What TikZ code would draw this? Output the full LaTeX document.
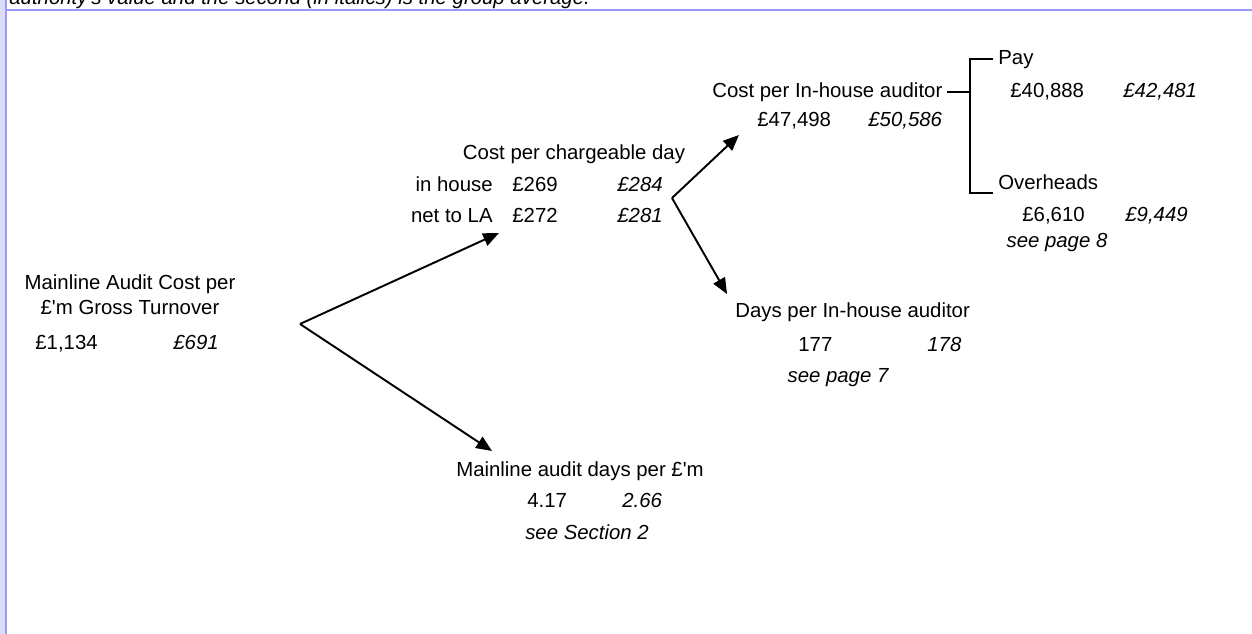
\documentclass[tikz,border=0pt]{standalone}
\usepackage{fontspec}
\setmainfont{Liberation Sans}
\usetikzlibrary{arrows.meta}
\definecolor{rulebl}{RGB}{153,153,255}
\definecolor{stripbl}{RGB}{220,220,248}

\begin{document}
\begin{tikzpicture}[x=0.02cm, y=-0.02cm,
  txt/.style={inner sep=0pt, font=\fontsize{11.6}{14}\selectfont, anchor=base west},
  ctxt/.style={txt, anchor=base},
  rtxt/.style={txt, anchor=base east},
  avg/.style={txt, font=\fontsize{11.6}{14}\selectfont\itshape},
  cavg/.style={avg, anchor=base},
  arr/.style={-{Triangle[length=9pt,width=7.5pt]}, line width=1.1pt},
  brk/.style={line width=1.1pt}]
\useasboundingbox (0,0) rectangle (1252,634);
\clip (0,0) rectangle (1252,634);

% Rahmen
\fill[stripbl] (0,0) rectangle (5,634);
\fill[rulebl] (5,0) rectangle (7,634);
\fill[rulebl] (5,9) rectangle (1252,11);
\node[avg] (note) at (9,5) {authority\textquotesingle s value and the second (in italics) is the group average.};

% Mainline audit cost
\node[ctxt] (mac1) at (130,290) {Mainline Audit Cost per};
\node[ctxt] (mac2) at (130,315) {£\textquotesingle m Gross Turnover};
\node[txt] (macv) at (35,350) {£1,134};
\node[avg] (maca) at (173,350) {£691};

% Cost per chargeable day
\node[ctxt] (cpd) at (574,160) {Cost per chargeable day};
\node[rtxt] (inh) at (493,192) {in house};
\node[txt] (inhv) at (512,192) {£269};
\node[avg] (inha) at (617,192) {£284};
\node[rtxt] (net) at (493,223) {net to LA};
\node[txt] (netv) at (512,223) {£272};
\node[avg] (neta) at (617,223) {£281};

% Cost per in-house auditor
\node[txt] (cpa) at (712,98) {Cost per In-house auditor};
\node[txt] (cpav) at (757,127) {£47,498};
\node[avg] (cpaa) at (868,127) {£50,586};

% Pay / overheads
\node[txt] (pay) at (998,65) {Pay};
\node[txt] (payv) at (1010,98) {£40,888};
\node[avg] (paya) at (1123,98) {£42,481};
\node[txt] (ovh) at (998,190) {Overheads};
\node[txt] (ovhv) at (1022,222) {£6,610};
\node[avg] (ovha) at (1125,222) {£9,449};
\node[cavg] (ovhs) at (1057,248) {see page 8};

% Days per in-house auditor
\node[txt] (dpa) at (735,318) {Days per In-house auditor};
\node[txt] (dpav) at (798,352) {177};
\node[avg] (dpaa) at (927,352) {178};
\node[cavg] (dpas) at (838,383) {see page 7};

% Mainline audit days
\node[ctxt] (mad) at (580,477) {Mainline audit days per £\textquotesingle m};
\node[txt] (madv) at (527,508) {4.17};
\node[avg] (mada) at (622,508) {2.66};
\node[cavg] (mads) at (587,540) {see Section 2};

% Pfeile
\coordinate (fork1) at (300,324);
\coordinate (tip1) at (499,233);
\coordinate (tip2) at (492,451);
\coordinate (fork2) at (672,198);
\coordinate (tip3) at (739,135);
\coordinate (tip4) at (727,294);
\draw[arr] (fork1) -- (tip1);
\draw[arr] (fork1) -- (tip2);
\draw[arr] (fork2) -- (tip3);
\draw[arr] (fork2) -- (tip4);

% Klammer
\coordinate (bkin) at (947,92);
\coordinate (bkmid) at (970,92);
\coordinate (bktop) at (993,59);
\coordinate (bkbot) at (993,193);
\draw[brk] (bkin) -- (bkmid);
\draw[brk] (bktop) -| (bkmid) |- (bkbot);

\end{tikzpicture}
\end{document}
